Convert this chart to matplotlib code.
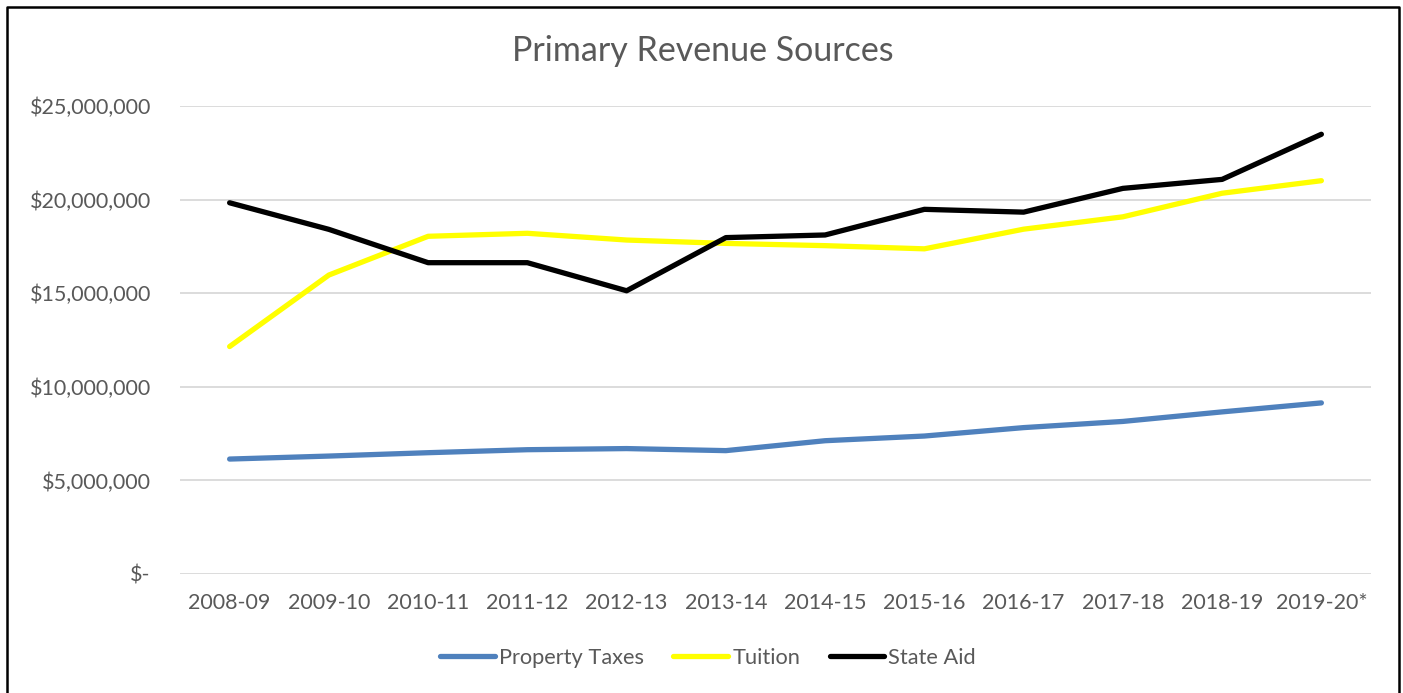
import matplotlib
matplotlib.use("Agg")
import matplotlib.pyplot as plt
from matplotlib.ticker import FuncFormatter
from matplotlib.lines import Line2D

years = ["2008-09", "2009-10", "2010-11", "2011-12", "2012-13", "2013-14",
         "2014-15", "2015-16", "2016-17", "2017-18", "2018-19", "2019-20*"]
property_taxes = [6.14, 6.30, 6.48, 6.64, 6.70, 6.59, 7.12, 7.37, 7.82, 8.15, 8.66, 9.14]
tuition = [12.15, 15.97, 18.04, 18.20, 17.84, 17.66, 17.54, 17.37, 18.42, 19.08, 20.34, 21.01]
state_aid = [19.83, 18.41, 16.63, 16.63, 15.13, 17.97, 18.11, 19.48, 19.33, 20.60, 21.08, 23.49]
scale = 1_000_000
yticks = [0, 5, 10, 15, 20, 25]

plt.rcParams['font.family'] = ['Lato', 'DejaVu Sans']
gray = '#595959'

fig = plt.figure(figsize=(14.03, 6.93), dpi=100)
W, H = 1403, 693
ax = fig.add_axes([180 / W, 1 - 574 / H, (1371 - 180) / W, (574 - 106) / H])

x = list(range(len(years)))
series = [("Property Taxes", property_taxes, '#4f81bd'),
          ("Tuition", tuition, '#ffff00'),
          ("State Aid", state_aid, '#000000')]
handles = []
for name, vals, col in series:
    ln, = ax.plot(x, [v * scale for v in vals], color=col, lw=3.8,
                  solid_capstyle='round', solid_joinstyle='round', label=name)
    handles.append(ln)

ax.set_xlim(-0.5, len(years) - 0.5)
ax.set_ylim(0, 25 * scale)
ax.set_yticks([t * scale for t in yticks])

def fmt(v, pos):
    if v == 0:
        return "$-"
    return "${:,.0f}".format(v)

ax.yaxis.set_major_formatter(FuncFormatter(fmt))
ax.set_xticks(x)
ax.set_xticklabels(years)
ax.grid(axis='y', color='#d9d9d9', lw=1.3)
ax.set_axisbelow(True)
for s in ax.spines.values():
    s.set_visible(False)
ax.tick_params(axis='both', length=0, labelcolor=gray, labelsize=15.5)
ax.tick_params(axis='y', pad=21)
ax.tick_params(axis='x', pad=14)

fig.text(703 / W, 1 - 51 / H, "Primary Revenue Sources", ha='center', va='center',
         fontsize=24.5, color=gray)

leg = fig.legend(handles=handles, loc='center', bbox_to_anchor=(708 / W, 1 - 658 / H),
                 ncol=3, frameon=False, fontsize=15.7, handlelength=2.5,
                 handletextpad=0.2, columnspacing=1.35, labelcolor=gray)

# outer border (left, top, right)
lx, rx, ty = 6.5 / W, 1398.5 / W, 1 - 6.5 / H
fig.add_artist(Line2D([lx, lx, rx, rx], [0, ty, ty, 0], transform=fig.transFigure,
                      color='black', lw=1.8))

fig.savefig("out.png", dpi=100, facecolor='white')
